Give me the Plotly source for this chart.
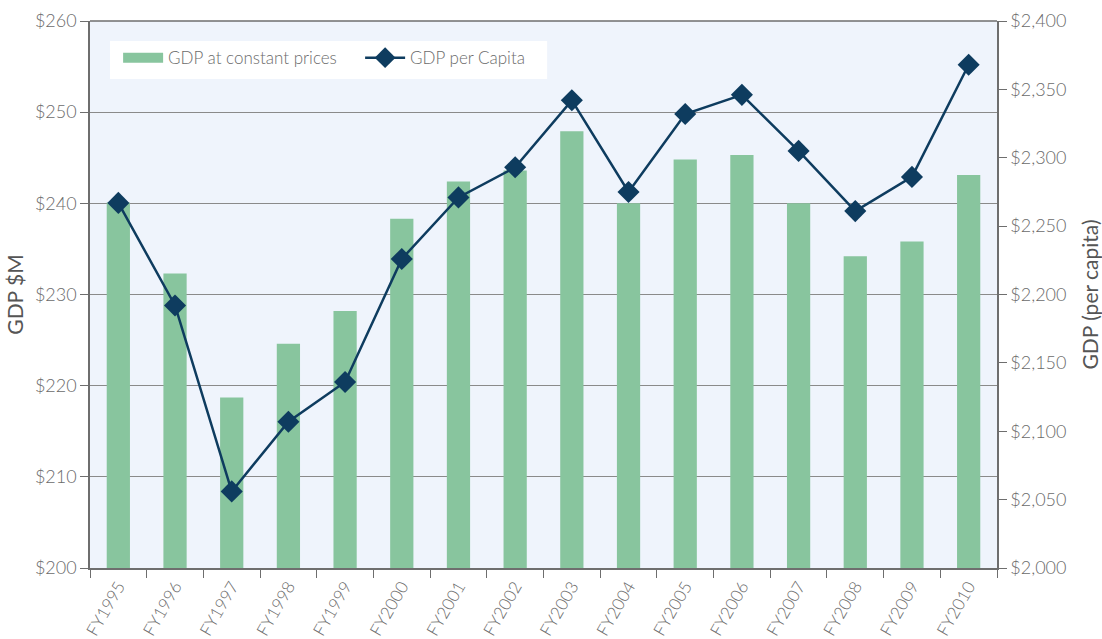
import plotly.graph_objects as go

years = ["FY1995", "FY1996", "FY1997", "FY1998", "FY1999", "FY2000", "FY2001", "FY2002",
         "FY2003", "FY2004", "FY2005", "FY2006", "FY2007", "FY2008", "FY2009", "FY2010"]
gdp_constant = [240.1, 232.3, 218.7, 224.6, 228.2, 238.3, 242.4, 243.6,
                247.9, 240.0, 244.8, 245.3, 240.0, 234.2, 235.8, 243.1]
gdp_per_capita = [2267, 2192, 2056, 2107, 2136, 2226, 2271, 2293,
                  2342, 2275, 2332, 2346, 2305, 2261, 2286, 2368]

left_ticks = [200, 210, 220, 230, 240, 250, 260]
right_ticks = [2000, 2050, 2100, 2150, 2200, 2250, 2300, 2350, 2400]

font_family = "Lato"
txt = "#6b6b6b"
axis_col = "#6e6e6e"
bar_col = "#88c59e"
line_col = "#0e3c5f"

fig = go.Figure()
fig.add_trace(go.Bar(
    x=years, y=gdp_constant, name="GDP at constant prices", showlegend=False,
    marker=dict(color=bar_col, line=dict(width=0)), width=0.41,
))
# legend-only entry to mimic the wide rectangular swatch
fig.add_trace(go.Scatter(
    x=[years[0]], y=[None], name="GDP at constant prices", mode="lines",
    line=dict(color=bar_col, width=11), showlegend=True, hoverinfo="skip",
))
fig.add_trace(go.Scatter(
    x=years, y=gdp_per_capita, name="GDP per Capita", yaxis="y2",
    mode="lines+markers",
    line=dict(color=line_col, width=2.5),
    marker=dict(symbol="diamond", size=17, color=line_col),
))

tf = dict(size=18, color=txt, family=font_family, weight=300)

fig.update_layout(
    width=1102, height=639,
    margin=dict(l=90, r=105, t=21, b=71),
    paper_bgcolor="white", plot_bgcolor="#eff4fc",
    font=dict(family=font_family, color=txt, size=16, weight=300),
    showlegend=True,
    legend=dict(orientation="h", x=0.031, y=0.965, xanchor="left", yanchor="top",
                bgcolor="rgba(0,0,0,0)", font=dict(size=17, color=txt, weight=300),
                itemwidth=40, traceorder="normal",
                entrywidthmode="pixels", entrywidth=187),
    bargap=0.59,
    xaxis=dict(
        type="category", categoryarray=years, range=[-0.5, len(years) - 0.5],
        tickangle=-60, tickson="boundaries", automargin=False,
        ticks="outside", ticklen=8, tickcolor=axis_col,
        showline=True, linecolor=axis_col, linewidth=1.5,
        showgrid=False, tickfont=dict(size=17, color=txt, family=font_family, weight=300),
    ),
    yaxis=dict(
        range=[200, 260], tickvals=left_ticks, automargin=False,
        ticktext=[f"${v}" for v in left_ticks],
        ticks="outside", ticklen=8, tickcolor=axis_col,
        showline=True, linecolor=axis_col, linewidth=1.5,
        showgrid=True, gridcolor="#8a8a8a", gridwidth=1,
        zeroline=False,
        title=dict(text="GDP $M", font=dict(size=21, color="#555555", weight=400), standoff=6),
        tickfont=tf,
    ),
    yaxis2=dict(
        range=[2000, 2400], tickvals=right_ticks, automargin=False,
        ticktext=[f"${v:,}" for v in right_ticks],
        overlaying="y", side="right",
        ticks="outside", ticklen=8, tickcolor=axis_col,
        showline=True, linecolor=axis_col, linewidth=1.5,
        showgrid=False, zeroline=False,
        title=dict(text="GDP (per capita)", font=dict(size=21, color="#555555", weight=400), standoff=18),
        tickfont=tf,
    ),
)

# legend box
fig.add_shape(type="rect", xref="paper", yref="paper", x0=0.022, x1=0.504, y0=0.894, y1=0.9635,
              fillcolor="white", line=dict(width=0), layer="below")
fig.add_shape(type="line", xref="paper", yref="paper", x0=0, x1=1, y0=1, y1=1,
              line=dict(color=axis_col, width=1.5))

fig.write_html("out.html", config={"displayModeBar": False},
               post_script="document.body.style.margin='0';document.body.style.padding='0';")
